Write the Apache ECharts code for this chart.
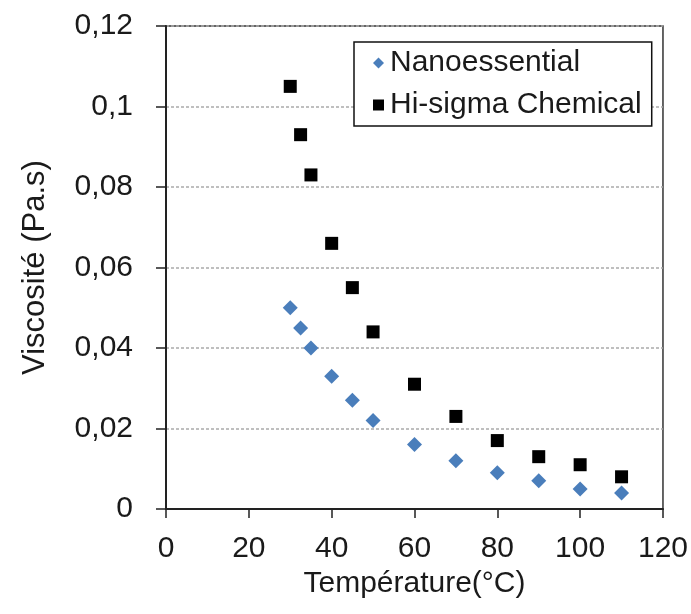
<!DOCTYPE html>
<html><head><meta charset="utf-8">
<script src="https://cdn.jsdelivr.net/npm/echarts@6/dist/echarts.min.js"></script>
<style>html,body{margin:0;padding:0;background:#fff}#c{width:691px;height:614px}</style>
</head><body><div id="c"></div>
<script>
const temperatures = [30, 32.5, 35, 40, 45, 50, 60, 70, 80, 90, 100, 110];
const nanoessential = [0.050, 0.045, 0.040, 0.033, 0.027, 0.022, 0.016, 0.012, 0.009, 0.007, 0.005, 0.004];
const hiSigma = [0.105, 0.093, 0.083, 0.066, 0.055, 0.044, 0.031, 0.023, 0.017, 0.013, 0.011, 0.008];
const seriesNames = ['Nanoessential', 'Hi-sigma Chemical'];
const xTitle = 'Température(°C)';
const yTitle = 'Viscosité (Pa.s)';

const FONT = '"Liberation Sans", Arial, sans-serif';
const TXT = '#1a1a1a';
const chart = echarts.init(document.getElementById('c'), null, {renderer: 'canvas'});
chart.setOption({
  backgroundColor: '#fff',
  animation: false,
  grid: {left: 166, right: 26, top: 26, bottom: 105, show: true, borderColor: '#333', borderWidth: 1.5, backgroundColor: 'transparent'},
  legend: {
    orient: 'vertical', left: 354, top: 42,
    padding: [6, 10, 6, 19], itemGap: 12, itemWidth: 11, itemHeight: 11,
    backgroundColor: '#fff', borderColor: '#111', borderWidth: 1.5, borderRadius: 0,
    textStyle: {fontFamily: FONT, fontSize: 30, color: TXT, padding: [0, 0, 0, 1]},
    data: [{name: seriesNames[0], icon: 'diamond'}, {name: seriesNames[1], icon: 'rect'}]
  },
  xAxis: {
    type: 'value', min: 0, max: 120, interval: 20,
    name: xTitle, nameLocation: 'middle', nameGap: 60,
    nameTextStyle: {fontFamily: FONT, fontSize: 30, color: TXT},
    axisLine: {show: true, onZero: false, lineStyle: {color: '#222', width: 2}},
    axisTick: {show: true, inside: false, length: 9, lineStyle: {color: '#222', width: 1.5}},
    axisLabel: {fontFamily: FONT, fontSize: 30, color: TXT, margin: 25},
    splitLine: {show: false}
  },
  yAxis: {
    type: 'value', min: 0, max: 0.12, interval: 0.02,
    name: yTitle, nameLocation: 'middle', nameGap: 115, nameRotate: 90,
    nameTextStyle: {fontFamily: FONT, fontSize: 31, color: TXT},
    axisLine: {show: true, lineStyle: {color: '#222', width: 2}},
    axisTick: {show: true, inside: false, length: 10, lineStyle: {color: '#222', width: 1.5}},
    axisLabel: {fontFamily: FONT, fontSize: 30, color: TXT, margin: 33,
      formatter: v => v === 0 ? '0' : String(+v.toFixed(2)).replace('.', ',')},
    splitLine: {show: true, lineStyle: {color: '#aaa', type: [3, 2], width: 1.5}}
  },
  series: [
    {name: seriesNames[0], type: 'scatter', symbol: 'diamond', symbolSize: 15,
     itemStyle: {color: '#4a7ebb', opacity: 1}, data: temperatures.map((t, i) => [t, nanoessential[i]])},
    {name: seriesNames[1], type: 'scatter', symbol: 'rect', symbolSize: 13,
     itemStyle: {color: '#000', opacity: 1}, data: temperatures.map((t, i) => [t, hiSigma[i]])}
  ]
});
</script></body></html>
